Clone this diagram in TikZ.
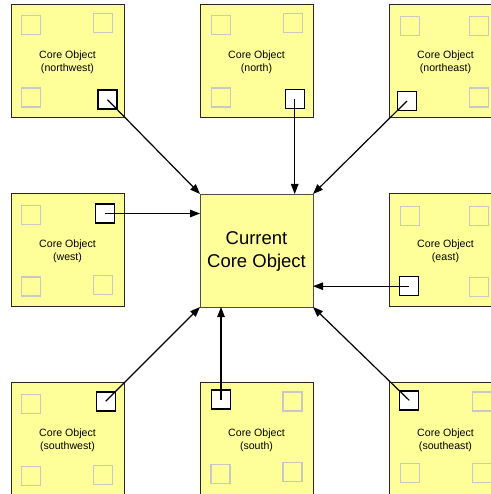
\documentclass[tikz,border=0pt]{standalone}
\usepackage{fontspec}
\setmainfont{Liberation Sans}
\usetikzlibrary{arrows.meta}
\definecolor{boxyellow}{HTML}{FFFF99}
\definecolor{sqgray}{HTML}{C8C8C8}
\tikzset{
  boxbase/.style={draw=black!85, line width=0.9pt, fill=boxyellow, minimum width=113pt, minimum height=113pt, inner sep=0pt, outer sep=0pt},
  smalltext/.style={align=center, inner sep=0pt, font=\fontsize{10.6}{13.6}\selectfont, yshift=-1.9pt},
  bigtext/.style={align=center, inner sep=0pt, font=\fontsize{18.5}{22.7}\selectfont, yshift=-1.2pt},
  corebox/.style={boxbase, label={[smalltext]center:{#1}}},
  centerbox/.style={boxbase, draw=black!70, label={[bigtext]center:{#1}}},
  graysq/.style={draw=sqgray, line width=1.2pt, minimum size=19pt, inner sep=0pt, outer sep=0pt},
  blacksq/.style={draw=black, fill=white, line width=1.4pt, minimum size=19pt, inner sep=0pt, outer sep=0pt},
  arr/.style={line width=1.2pt, -{Triangle[length=10pt,width=7.5pt]}}
}
\begin{document}
\begin{tikzpicture}[x=1pt,y=-1pt]
\useasboundingbox (0,0) rectangle (490,494);
% boxes
\node[corebox={Core Object\\(northwest)}] (nw) at (67.5,60.5) {};
\node[corebox={Core Object\\(north)}] (n)  at (256.5,60.5) {};
\node[corebox={Core Object\\(northeast)}] (ne) at (445.5,60.5) {};
\node[corebox={Core Object\\(west)}] (w)  at (67.5,249.5) {};
\node[centerbox={Current\\Core Object}] (c) at (256.5,250.5) {};
\node[corebox={Core Object\\(east)}] (e)  at (445.5,249.5) {};
\node[corebox={Core Object\\(southwest)}] (sw) at (67.5,438.5) {};
\node[corebox={Core Object\\(south)}] (s)  at (256.5,438.5) {};
\node[corebox={Core Object\\(southeast)}] (se) at (445.5,438.5) {};
% northwest squares
\node[graysq] (nw1) at (31,25) {};
\node[graysq] (nw2) at (103,23) {};
\node[graysq] (nw3) at (31,97.5) {};
\node[blacksq] (nwb) at (107.5,99.7) {};
% north squares
\node[graysq] (n1) at (221,25.3) {};
\node[graysq] (n2) at (292.7,23.2) {};
\node[graysq] (n3) at (221,97.5) {};
\node[blacksq] (nb) at (294.7,99) {};
% northeast squares
\node[graysq] (ne1) at (410,26.2) {};
\node[graysq] (ne2) at (479,26) {};
\node[graysq] (ne3) at (479,97.5) {};
\node[blacksq] (neb) at (407,101) {};
% west squares
\node[graysq] (w1) at (31,215) {};
\node[graysq] (w2) at (31,286.5) {};
\node[graysq] (w3) at (103.3,285) {};
\node[blacksq] (wb) at (105,213.5) {};
% east squares
\node[graysq] (e1) at (410,215.7) {};
\node[graysq] (e2) at (479,215.7) {};
\node[graysq] (e3) at (479,287) {};
\node[blacksq] (eb) at (409.2,286.2) {};
% southwest squares
\node[graysq] (sw1) at (31,404) {};
\node[graysq] (sw2) at (31,476) {};
\node[graysq] (sw3) at (103.3,475) {};
\node[blacksq] (swb) at (105.7,401.3) {};
% south squares
\node[graysq] (s1) at (292.5,401.5) {};
\node[graysq] (s2) at (220.5,473.7) {};
\node[graysq] (s3) at (292.5,472.2) {};
\node[blacksq] (sb) at (221,399.5) {};
% southeast squares
\node[graysq] (se1) at (482,401.5) {};
\node[graysq] (se2) at (410,473.2) {};
\node[graysq] (se3) at (482,473.2) {};
\node[blacksq] (seb) at (409.2,400.3) {};
% arrows
\draw[arr] (nwb.center) -- (c.north west);
\draw[arr] (nb.center) -- (nb.center |- c.north);
\draw[arr] (neb.center) -- (c.north east);
\draw[arr] (wb.center) -- (wb.center -| c.west);
\draw[arr] (eb.center) -- (eb.center -| c.east);
\draw[arr] (swb.center) -- (c.south west);
\draw[arr] (sb.center) -- (sb.center |- c.south);
\draw[arr] (seb.center) -- (c.south east);
\end{tikzpicture}
\end{document}
